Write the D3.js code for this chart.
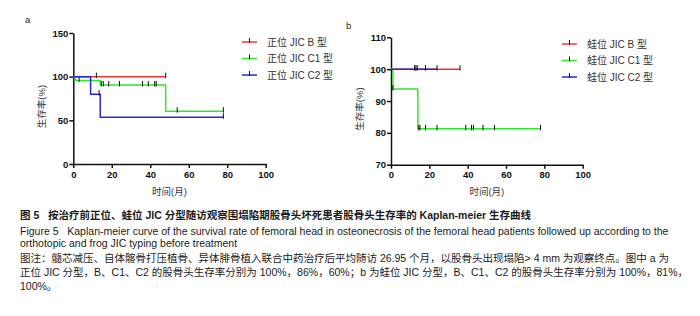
<!DOCTYPE html>
<html>
<head>
<meta charset="utf-8">
<script src="https://cdn.jsdelivr.net/npm/d3@7"></script>
<style>
  body { margin: 0; background: #fff; }
  text { font-family: "Liberation Sans", Arial, "Noto Sans CJK SC", sans-serif; }
  .cap { white-space: pre; }
</style>
</head>
<body>
<div id="chart"></div>
<script>
// Shared axis ticks
const timeTicks = [0, 20, 40, 60, 80, 100];
const aSurvTicks = [0, 50, 100, 150];
const bSurvTicks = [70, 80, 90, 100, 110];

// Panel a - orthotopic JIC typing (step vertices + censor times)
const aNames = ['正位 JIC B 型', '正位 JIC C1 型', '正位 JIC C2 型'];
const aB_time = [0, 48];
const aB_surv = [100, 100];
const aB_cens = [12, 48];
const aC1_time = [0, 1, 14, 48, 78];
const aC1_surv = [100, 95.5, 90.5, 60.5, 60.5];
const aC1_cens = [3, 14.6, 15.6, 18.4, 24, 36, 39, 42.3, 43.1, 54, 78];
const aC2_time = [0, 9, 14, 78];
const aC2_surv = [100, 80, 53.5, 53.5];
const aC2_cens = [13.4, 78];

// Panel b - frog JIC typing
const bNames = ['蛙位 JIC B 型', '蛙位 JIC C1 型', '蛙位 JIC C2 型'];
const bB_time = [0, 36];
const bB_surv = [100, 100];
const bB_cens = [36];
const bC1_time = [0, 1, 14, 78];
const bC1_surv = [100, 93.75, 81.25, 81.25];
const bC1_cens = [1, 14.5, 15.1, 18, 24, 39, 42, 43, 48, 54, 78];
const bC2_time = [0, 24];
const bC2_surv = [100, 100];
const bC2_cens = [12.3, 13, 13.7, 18, 24];

const colors = ['#e8393a', '#2ee82e', '#2a2ad0'];

const captionLines = [
  '图 5   按治疗前正位、蛙位 JIC 分型随访观察围塌陷期股骨头坏死患者股骨头生存率的 Kaplan-meier 生存曲线',
  'Figure 5   Kaplan-meier curve of the survival rate of femoral head in osteonecrosis of the femoral head patients followed up according to the',
  'orthotopic and frog JIC typing before treatment',
  '图注：髓芯减压、自体髂骨打压植骨、异体腓骨植入联合中药治疗后平均随访 26.95 个月，以股骨头出现塌陷> 4 mm 为观察终点。图中 a 为',
  '正位 JIC 分型，B、C1、C2 的股骨头生存率分别为 100%，86%，60%；b 为蛙位 JIC 分型，B、C1、C2 的股骨头生存率分别为 100%，81%，',
  '100%。'
];

const svg = d3.select('#chart').append('svg')
  .attr('width', 700)
  .attr('height', 316);

function drawPanel(opt) {
  const x = d3.scaleLinear().domain([0, 100]).range(opt.xRange);
  const y = d3.scaleLinear().domain(opt.yDomain).range(opt.yRange);
  const g = svg.append('g');

  // axes
  const xAxis = g.append('g')
    .attr('transform', `translate(0,${opt.yRange[0]})`)
    .call(d3.axisBottom(x).tickValues(timeTicks).tickSize(4).tickPadding(3).tickSizeOuter(0));
  const yAxis = g.append('g')
    .attr('transform', `translate(${opt.xRange[0]},0)`)
    .call(d3.axisLeft(y).tickValues(opt.yTicks).tickSize(4).tickPadding(1).tickSizeOuter(0));
  [xAxis, yAxis].forEach(ax => {
    ax.selectAll('path, line').attr('stroke', '#111').attr('stroke-width', 1.5);
    ax.selectAll('text')
      .attr('fill', '#111')
      .attr('font-size', 9.5)
      .attr('font-weight', 'bold');
  });

  const line = d3.line()
    .x(d => x(d[0]))
    .y(d => y(d[1]))
    .curve(d3.curveStepAfter);

  opt.series.forEach((s, i) => {
    const pts = s.time.map((t, k) => [t, s.surv[k]]);
    g.append('path')
      .attr('d', line(pts))
      .attr('fill', 'none')
      .attr('stroke', colors[i])
      .attr('stroke-width', 1.5);

    // censor marks
    const survAt = t => {
      let v = s.surv[0];
      s.time.forEach((tt, k) => { if (tt <= t) v = s.surv[k]; });
      return v;
    };
    g.selectAll(null)
      .data(s.cens)
      .join('line')
      .attr('x1', d => x(d)).attr('x2', d => x(d))
      .attr('y1', d => y(survAt(d)) - 4)
      .attr('y2', d => y(survAt(d)) + 1.5)
      .attr('stroke', '#111')
      .attr('stroke-width', 1);
  });

  // legend
  opt.names.forEach((name, i) => {
    const ly = opt.legY + i * 16.5;
    g.append('line')
      .attr('x1', opt.legX).attr('x2', opt.legX + 15)
      .attr('y1', ly).attr('y2', ly)
      .attr('stroke', colors[i]).attr('stroke-width', 1.5);
    g.append('line')
      .attr('x1', opt.legX + 7.5).attr('x2', opt.legX + 7.5)
      .attr('y1', ly - 4).attr('y2', ly + 1)
      .attr('stroke', '#111').attr('stroke-width', 1);
    g.append('text')
      .attr('x', opt.legX + 25)
      .attr('y', ly + 3.5)
      .attr('font-size', 10)
      .attr('fill', '#333')
      .text(name);
  });

  // axis titles
  g.append('text')
    .attr('x', (opt.xRange[0] + opt.xRange[1]) / 2)
    .attr('y', 195)
    .attr('text-anchor', 'middle')
    .attr('font-size', 9.5)
    .attr('fill', '#333')
    .text('时间(月)');
  g.append('text')
    .attr('transform', `translate(${opt.yLabX},${(opt.yRange[0] + opt.yRange[1]) / 2 + 8}) rotate(-90)`)
    .attr('text-anchor', 'middle')
    .attr('font-size', 9.5)
    .attr('fill', '#333')
    .text('生存率(%)');

  // panel letter
  g.append('text')
    .attr('x', opt.letterX).attr('y', opt.letterY)
    .attr('font-size', 9.5)
    .attr('fill', '#222')
    .text(opt.letter);
}

drawPanel({
  letter: 'a', letterX: 25, letterY: 23,
  xRange: [73.3, 265.7], yDomain: [0, 150], yRange: [164, 33], yTicks: aSurvTicks,
  yLabX: 45,
  legX: 242, legY: 42, names: aNames,
  series: [
    { time: aB_time, surv: aB_surv, cens: aB_cens },
    { time: aC1_time, surv: aC1_surv, cens: aC1_cens },
    { time: aC2_time, surv: aC2_surv, cens: aC2_cens }
  ]
});

drawPanel({
  letter: 'b', letterX: 346, letterY: 29,
  xRange: [391, 582.7], yDomain: [70, 110], yRange: [164.7, 37.3], yTicks: bSurvTicks,
  yLabX: 363,
  legX: 562, legY: 44, names: bNames,
  series: [
    { time: bB_time, surv: bB_surv, cens: bB_cens },
    { time: bC1_time, surv: bC1_surv, cens: bC1_cens },
    { time: bC2_time, surv: bC2_surv, cens: bC2_cens }
  ]
});

// caption
const capY = [219, 235, 247, 262, 276, 290];
svg.selectAll('text.cap')
  .data(captionLines)
  .join('text')
  .attr('class', 'cap')
  .attr('x', 20)
  .attr('y', (d, i) => capY[i])
  .attr('font-size', 10.5)
  .attr('font-weight', (d, i) => i === 0 ? 'bold' : 'normal')
  .attr('fill', '#1a1a1a')
  .text(d => d);
</script>
</body>
</html>
